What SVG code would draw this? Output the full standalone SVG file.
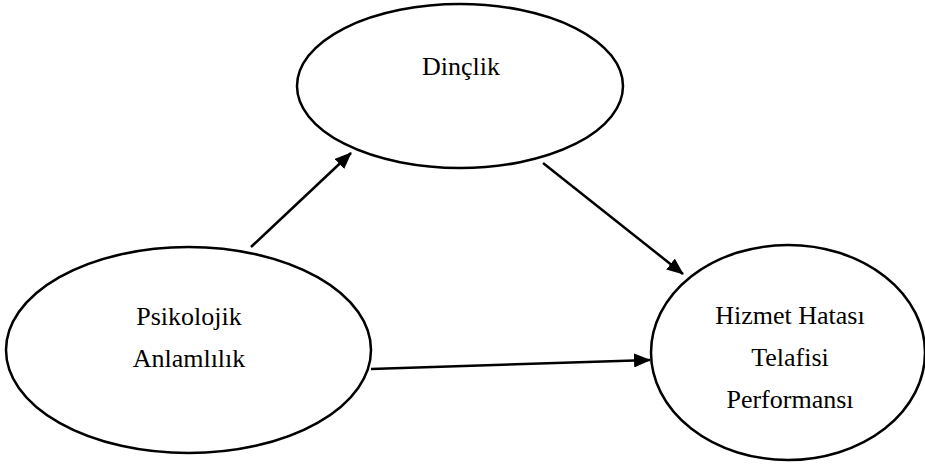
<svg xmlns="http://www.w3.org/2000/svg" width="925" height="466" viewBox="0 0 925 466">
<style>
.node ellipse{fill:#fff;stroke:#000;stroke-width:2.5}
.node text{font-family:"Liberation Serif","Times New Roman",serif;font-size:26px;fill:#000;text-anchor:middle}
.conn line{stroke:#000;stroke-width:2.5;marker-end:url(#ah)}
</style>
<defs>
<marker id="ah" markerUnits="userSpaceOnUse" markerWidth="18" markerHeight="14" refX="16" refY="7" orient="auto">
<path d="M0,0 L17,7 L0,14 z" fill="#000"/>
</marker>
</defs>
<rect width="925" height="466" fill="#fff"/>
<g id="dinclik" class="node">
<ellipse cx="460" cy="86" rx="163" ry="82"/>
<text x="461" y="75">Dinçlik</text>
</g>
<g id="psikolojik" class="node">
<ellipse cx="188.5" cy="350" rx="182.5" ry="103"/>
<text x="189" y="325">Psikolojik</text>
<text x="189" y="367">Anlamlılık</text>
</g>
<g id="hizmet" class="node">
<ellipse cx="788" cy="352.5" rx="137" ry="107.5"/>
<text x="790" y="324">Hizmet Hatası</text>
<text x="790" y="366">Telafisi</text>
<text x="790" y="408">Performansı</text>
</g>
<g id="connectors" class="conn">
<line x1="251" y1="247" x2="351" y2="153"/>
<line x1="543" y1="163" x2="683" y2="274"/>
<line x1="371" y1="369" x2="650" y2="360"/>
</g>
</svg>
